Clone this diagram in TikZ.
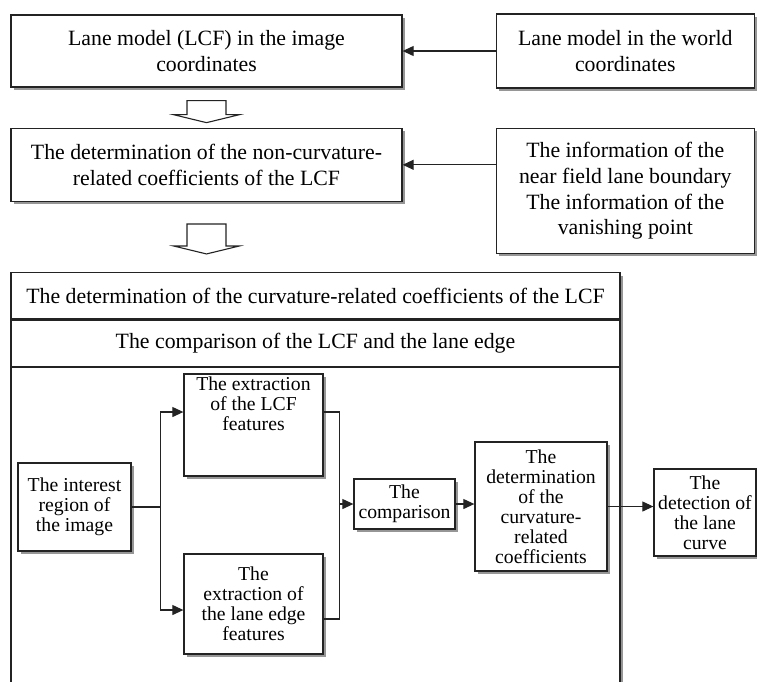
\documentclass[tikz,border=0pt]{standalone}
\usepackage{fontspec}
\setmainfont{Liberation Serif}
\usetikzlibrary{arrows.meta,positioning,calc,shadows}
\definecolor{linegray}{RGB}{35,35,35}
\definecolor{shadegray}{RGB}{150,150,150}

% hollow block arrow below node #1, ending above node #2
\newcommand{\hollowdown}[4]{%
  \draw[hollow] let \p1=(#1.south), \p2=(#2.north) in
    (\x1-19.5pt,\y1-#3) -- (\x1-19.5pt,\y2+#4+8pt) -- (\x1-33pt,\y2+#4+8pt)
    -- (\x1,\y2+#4) -- (\x1+33pt,\y2+#4+8pt) -- (\x1+19.5pt,\y2+#4+8pt)
    -- (\x1+19.5pt,\y1-#3) -- cycle;}

\begin{document}
\begin{tikzpicture}[
  x=1pt, y=-1pt,
  big/.style={font=\fontsize{21.8}{25.8}\selectfont},
  small/.style={font=\fontsize{19.7}{20}\selectfont},
  blk/.style={draw=linegray, line width=1.3pt, fill=white, align=center,
              inner sep=2pt,
              drop shadow={shadow xshift=3pt, shadow yshift=-3pt,
                           fill=shadegray, opacity=1}},
  topblk/.style={blk, big},
  inblk/.style={blk, small},
  band/.style={draw=linegray, line width=1.3pt, big, inner sep=0pt,
               minimum width=609pt, anchor=north west},
  arr/.style={-{Triangle[length=11pt,width=10pt]}, linegray, line width=1.1pt},
  wire/.style={linegray, line width=1.1pt},
  hollow/.style={draw=linegray, line width=1.1pt, fill=white},
]
  \useasboundingbox (0,0) rectangle (757,681);
  \clip (0,0) rectangle (757,681);

  % upper part
  \node[topblk, minimum width=391pt, minimum height=72pt] (lcfimg) at (206.5,51)
    {Lane model (LCF) in the image\\coordinates};
  \node[topblk, minimum width=258pt, minimum height=74pt, right=93pt of lcfimg] (worldlm)
    {Lane model in the world\\coordinates};
  \node[topblk, minimum width=391pt, minimum height=73pt, below=40pt of lcfimg] (noncurv)
    {The determination of the non-curvature-\\related coefficients of the LCF};
  \node[topblk, minimum width=258pt, minimum height=125pt, below=39pt of worldlm] (info)
    {The information of the\\near field lane boundary\\The information of the\\vanishing point};

  \draw[arr] (worldlm.west) -- (lcfimg.east);
  \draw[arr] (info.west |- noncurv.east) -- (noncurv.east);

  % curvature part
  \node[blk, minimum width=609pt, minimum height=440pt, anchor=north west] (frame)
    at ($(noncurv.south west)+(0,70)$) {};
  \node[band, minimum height=46pt] (row1) at (frame.north west)
    {The determination of the curvature-related coefficients of the LCF};
  \node[band, minimum height=47pt] (row2) at (row1.south west)
    {The comparison of the LCF and the lane edge};

  \hollowdown{lcfimg}{noncurv}{13pt}{5pt}
  \hollowdown{noncurv}{frame}{22pt}{18pt}

  \node[inblk, minimum width=113pt, minimum height=88pt] (roi) at (74.5,507)
    {The interest\\region of\\the image};
  \node[inblk, minimum width=139pt, minimum height=102pt] (lcffeat) at (253.5,425)
    {\parbox[c][96pt][t]{130pt}{\centering The extraction\\of the LCF\\features}};
  \node[inblk, minimum width=139pt, minimum height=100pt] (edgefeat) at (253.5,604)
    {The\\extraction of\\the lane edge\\features};
  \node[inblk, minimum width=101pt, minimum height=50pt] (cmp) at (404.5,504)
    {The\\comparison};
  \node[inblk, minimum width=132pt, minimum height=129pt] (coef) at (541,506.5)
    {The\\determination\\of the\\curvature-\\related\\coefficients};
  \node[inblk, minimum width=102pt, minimum height=87pt] (detect) at (705,512.5)
    {The\\detection of\\the lane\\curve};

  \draw[arr] (roi.east) -- ++(29,0) |- ([yshift=13pt]lcffeat.west);
  \draw[arr] (roi.east) -- ++(29,0) |- ([yshift=-6pt]edgefeat.west);
  \draw[wire] ([yshift=13pt]lcffeat.east) -- ++(16,0) coordinate (merge)
    |- ([yshift=-15pt]edgefeat.east);
  \draw[arr] (merge |- cmp.west) -- (cmp.west);
  \draw[arr] (cmp.east) -- (cmp.east -| coef.west);
  \draw[arr] (coef.east) -- (coef.east -| detect.west);
\end{tikzpicture}
\end{document}
